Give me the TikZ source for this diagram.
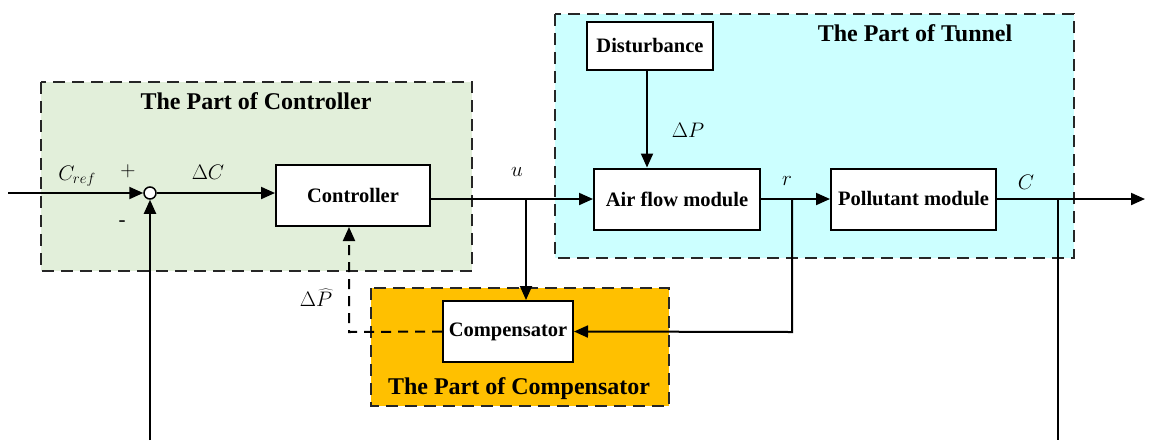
\RequirePackage{fix-cm}
\documentclass[tikz,border=0pt]{standalone}
\usepackage{fontspec}
\setmainfont{Liberation Serif}
\usetikzlibrary{arrows.meta,calc}
\definecolor{ctrlgreen}{HTML}{E2EFDA}
\definecolor{tunnelcyan}{HTML}{CCFFFF}
\definecolor{comporange}{HTML}{FFC000}
\tikzset{
  region/.style={draw=black!85, line width=2.2pt, dash pattern=on 12pt off 7pt},
  blockbox/.style={draw, line width=2pt, fill=white, minimum height=61pt, inner sep=0pt, font=\fontsize{20.5}{24}\selectfont\bfseries},
  title/.style={font=\fontsize{24}{28}\selectfont\bfseries, inner sep=0pt},
  conn/.style={line width=2pt},
  arr/.style={conn, -{Triangle[length=14pt,width=12pt]}},
  lbl/.style={font=\fontsize{21}{25}\selectfont, inner sep=0pt},
}
\begin{document}
\begin{tikzpicture}[x=1pt,y=-1pt]
\useasboundingbox (0,0) rectangle (1155,440);
% regions
\fill[ctrlgreen] (41,82) rectangle (472,271);
\draw[region] (41,82) rectangle (472,271);
\fill[tunnelcyan] (555,14) rectangle (1074,258);
\draw[region] (555,14) rectangle (1074,258);
\fill[comporange] (371,288) rectangle (669,406);
\draw[region] (371,288) rectangle (669,406);
\node[title] (tctrl) at (256,101) {The Part of Controller};
\node[title] (ttun) at (915,33) {The Part of Tunnel};
\node[title] (tcomp) at (519,389) {The Part of Compensator};
% blocks
\node[blockbox, minimum width=154pt] (ctrl) at (353,195.5) {Controller};
\node[blockbox, minimum width=166pt] (air) at (677,199) {Air flow module};
\node[blockbox, minimum width=165pt] (poll) at (913.5,199) {Pollutant module};
\node[blockbox, minimum width=126pt, minimum height=48pt] (dist) at (650,46) {Disturbance};
\node[blockbox, minimum width=130pt] (comp) at (508,331.5) {Compensator};
\node[circle, draw, line width=1.5pt, fill=white, minimum size=12pt, inner sep=0pt] (sum) at (150,193) {};
% coordinates
\coordinate (in) at (8,193);
\coordinate (fbs) at (150,440);
\coordinate (bu) at (526,199);
\coordinate (dd) at (647,70);
\coordinate (br) at (792,199);
\coordinate (brc) at (792,332);
\coordinate (bc) at (1058,199);
\coordinate (fbc) at (1058,440);
\coordinate (out) at (1145,199);
\coordinate (dp) at (349,332);
% connectors
\draw[arr] (in) -- (sum);
\draw[arr] (fbs) -- (sum);
\draw[arr] (sum) -- (sum -| ctrl.west);
\draw[arr] (ctrl.east |- air.west) -- (air.west);
\draw[arr] (bu) -- (bu |- comp.north);
\draw[arr] (dd) -- (dd |- air.north);
\draw[arr] (air.east) -- (poll.west);
\draw[arr] (br) -- (brc) -- (comp.east);
\draw[arr] (poll.east) -- (out);
\draw[conn] (bc) -- (fbc);
\draw[arr, dash pattern=on 10pt off 7pt] (comp.west) -- (dp) -- (dp |- ctrl.south);
% labels
\node[lbl] (lcref) at (77,176) {$C_{ref}$};
\node[lbl] (lplus) at (128,171) {$+$};
\node[lbl] (lminus) at (122,224) {-};
\node[lbl] (ldc) at (208,172) {$\Delta C$};
\node[lbl] (lu) at (517,172) {$u$};
\node[lbl] (ldp) at (688,130) {$\Delta P$};
\node[lbl] (lr) at (787,181) {$r$};
\node[lbl] (lc) at (1026,182) {$C$};
\node[lbl] (ldph) at (316,298) {$\Delta\widehat{P}$};
\end{tikzpicture}
\end{document}
